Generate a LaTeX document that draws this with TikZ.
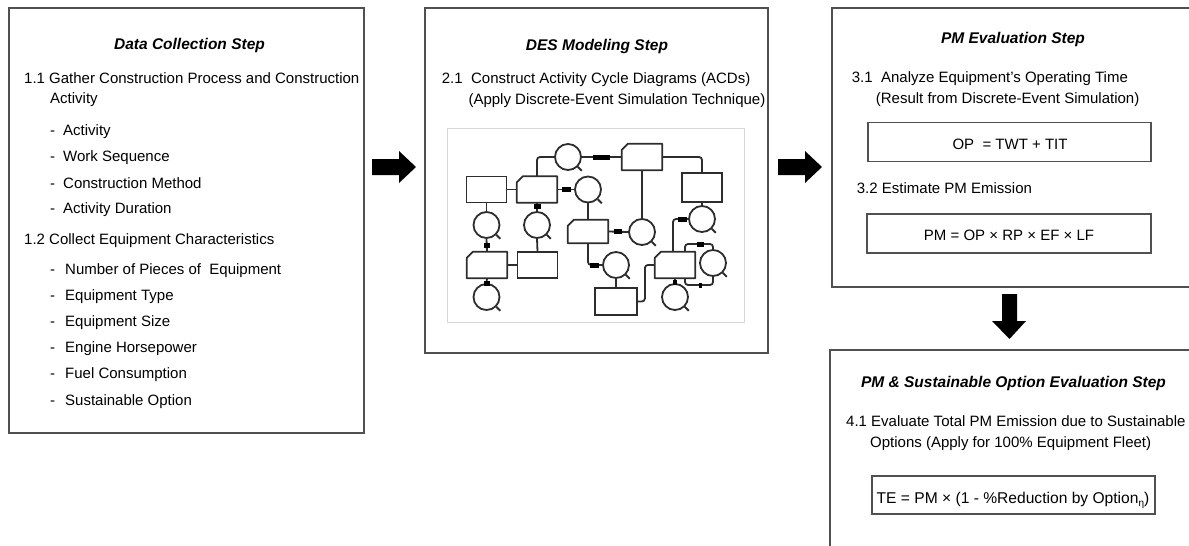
\documentclass[tikz,border=0pt]{standalone}
\usepackage{fontspec}
\setmainfont{Liberation Sans}
\definecolor{framecol}{RGB}{80,80,80}
\definecolor{acdcol}{RGB}{45,45,45}
\definecolor{innerframe}{RGB}{215,215,215}
\begin{document}
\begin{tikzpicture}[x=1pt,y=-1pt,
  stepframe/.style={draw=framecol, line width=1.4pt},
  fbox/.style={draw=framecol, line width=1.4pt, minimum height=39, inner sep=0},
  ttl/.style={font=\fontsize{15.5}{18}\selectfont\bfseries\itshape, anchor=base, inner sep=0},
  txt/.style={font=\fontsize{15}{17}\selectfont, anchor=base west, inner sep=0},
  ctxt/.style={font=\fontsize{15}{17}\selectfont, anchor=base, inner sep=0},
  acd/.style={line width=1.8pt, draw=acdcol},
  abox/.style={acd, rectangle, minimum width=40, minimum height=26, inner sep=0, fill=white},
  cbox/.style={rectangle, minimum width=40, minimum height=26, inner sep=0},
  qc/.style={acd, circle, minimum size=26, inner sep=0, fill=white},
  lbl/.style={fill=black, minimum height=5, inner sep=0},
  wire/.style={acd, rounded corners=3pt},
  barrow/.style={fill=black}
]
\useasboundingbox (0,0) rectangle (1189,546);
\clip (0,0) rectangle (1189,546);

% ---------- step frames ----------
\draw[stepframe] (9,8) rectangle (364,433);
\draw[stepframe] (425,8) rectangle (768,353);
\draw[stepframe] (832,8) rectangle (1200,287);
\draw[stepframe] (830,350) rectangle (1200,560);

% ---------- block arrows ----------
\fill[barrow] (372,159) -- (399,159) -- (399,151) -- (416,167) -- (399,183) -- (399,175) -- (372,175) -- cycle;
\fill[barrow] (778,159) -- (805,159) -- (805,151) -- (822,167) -- (805,183) -- (805,175) -- (778,175) -- cycle;
\fill[barrow] (1002,294) -- (1017,294) -- (1017,321) -- (1026,321) -- (1009.5,339) -- (992,321) -- (1002,321) -- cycle;

% ---------- box 1 ----------
\node[ttl] (t1) at (189.5,49) {Data Collection Step};
\node[txt] (a1) at (24,83.3) {1.1 Gather Construction Process and Construction};
\node[txt] (a2) at (50,103.7) {Activity};
\node[txt] (a3) at (50,135.7) {\makebox[13pt][l]{-}Activity};
\node[txt] (a4) at (50,161.7) {\makebox[13pt][l]{-}Work Sequence};
\node[txt] (a5) at (50,188.3) {\makebox[13pt][l]{-}Construction Method};
\node[txt] (a6) at (50,213.7) {\makebox[13pt][l]{-}Activity Duration};
\node[txt] (b1) at (24,244.3) {1.2 Collect Equipment Characteristics};
\node[txt] (b2) at (50,274) {\makebox[15pt][l]{-}Number of Pieces of \ Equipment};
\node[txt] (b3) at (50,300) {\makebox[15pt][l]{-}Equipment Type};
\node[txt] (b4) at (50,326.5) {\makebox[15pt][l]{-}Equipment Size};
\node[txt] (b5) at (50,352.5) {\makebox[15pt][l]{-}Engine Horsepower};
\node[txt] (b6) at (50,378.5) {\makebox[15pt][l]{-}Fuel Consumption};
\node[txt] (b7) at (50,405) {\makebox[15pt][l]{-}Sustainable Option};

% ---------- box 2 ----------
\node[ttl] (t2) at (597,50) {DES Modeling Step};
\node[txt] (c1) at (441.7,83.3) {2.1\ \ Construct Activity Cycle Diagrams (ACDs)};
\node[txt] (c2) at (468.3,104) {(Apply Discrete-Event Simulation Technique)};
\draw[innerframe, line width=1pt] (447,128) rectangle (744,322);

% ACD nodes
\node[qc] (q1) at (568,157) {};
\node[cbox] (k2) at (642,157) {};
\node[abox] (k4) at (486.5,189.5) {};
\node[cbox] (k5) at (537,189.5) {};
\node[qc] (q6) at (588,189.5) {};
\node[abox, minimum height=29] (k8) at (702,187.5) {};
\node[qc] (q9) at (702,219) {};
\node[qc] (q10) at (486.5,225) {};
\node[qc] (q11) at (537,225) {};
\node[cbox, minimum height=23] (k13) at (588,231.5) {};
\node[qc] (q15) at (642,232) {};
\node[qc] (q17) at (616,265) {};
\node[abox, minimum width=42, minimum height=27] (k19) at (616,301.5) {};
\node[cbox] (k20) at (675,265) {};
\node[qc] (q21) at (713,263) {};
\node[qc] (q23) at (675,297) {};
\node[cbox] (k25) at (487,265) {};
\node[abox] (k26) at (537.5,265) {};
\node[qc] (q27) at (486.5,297) {};
\foreach \k in {k2,k5,k13,k20,k25}
  \draw[acd, fill=white, line join=round]
    ([yshift=-6pt]\k.north west) -- ([xshift=6pt]\k.north west) -- (\k.north east)
    -- (\k.south east) -- (\k.south west) -- cycle;
\coordinate (lpA) at (685,244);
\coordinate (lpB) at (685,285);

% ACD wires
\draw[wire] (k5.north) |- (q1.west);
\draw[wire] (q1.east) -- (k2.west);
\draw[wire] (k2.east) -| (k8.north);
\draw[wire] (k2.south) -- (q15.north);
\draw[wire] (k4.east) -- (k5.west);
\draw[wire] (k5.east) -- (q6.west);
\draw[wire] (q6.south) -- (k13.north);
\draw[wire] (k13.east) -- (q15.west);
\draw[wire] (k13.south) |- (q17.west);
\draw[wire] (q17.south) -- (k19.north);
\draw[wire] (k19.east) -- ++(7,0) |- (k20.west);
\draw[wire] ([xshift=-2pt]k20.north) |- (q9.west);
\draw[wire] (k8.south) -- (q9.north);
\draw[wire] (lpA |- k20.north) -- (lpA) -| (q21.north);
\draw[wire] (q21.south) |- (lpB) -- (lpB |- k20.south);
\draw[wire] (k20.south) -- (q23.north);
\draw[wire] (k4.south) -- (q10.north);
\draw[wire] (q10.south) -- (k25.north);
\draw[wire] (k25.south) -- (q27.north);
\draw[wire] (k25.east) -- (k26.west);
\draw[wire] (k26.north) -- (q11.south);
\draw[wire] (q11.north) -- (k5.south);
\foreach \q in {q1,q6,q9,q10,q11,q15,q17,q21,q23,q27}
  \draw[acd] (\q.-45) -- ++(4,4);

% ACD small labels
\node[lbl, minimum width=17] (l1) at (601,157) {};
\node[lbl, minimum width=9] (l2) at (566,189.5) {};
\node[lbl, minimum width=7] (l3) at (537,206) {};
\node[lbl, minimum width=8] (l4) at (618,231.5) {};
\node[lbl, minimum width=9] (l5) at (594,265) {};
\node[lbl, minimum width=9] (l6) at (682,219) {};
\node[lbl, minimum width=7] (l7) at (700,244) {};
\node[lbl, minimum width=3] (l8) at (700,285) {};
\node[lbl, minimum width=4] (l9) at (675,282) {};
\node[lbl, minimum width=6] (l10) at (486.5,245) {};
\node[lbl, minimum width=6] (l11) at (486.5,283) {};

% ---------- box 3 ----------
\node[ttl] (t3) at (1013,43) {PM Evaluation Step};
\node[txt] (d1) at (851.7,82.7) {3.1\ \ Analyze Equipment’s Operating Time};
\node[txt] (d2) at (875.7,103.3) {(Result from Discrete-Event Simulation)};
\node[fbox, minimum width=283] (f1) at (1009.5,142) {};
\node[ctxt] (e1) at (1010,149.3) {OP\ \ = TWT + TIT};
\node[txt] (d3) at (856.7,193.3) {3.2 Estimate PM Emission};
\node[fbox, minimum width=284] (f2) at (1009,233.5) {};
\node[ctxt] (e2) at (1009,240) {PM = OP × RP × EF × LF};

% ---------- box 4 ----------
\node[ttl] (t4) at (1013.5,387.3) {PM \& Sustainable Option Evaluation Step};
\node[txt] (g1) at (846,426) {4.1 Evaluate Total PM Emission due to Sustainable};
\node[txt] (g2) at (870,447.3) {Options (Apply for 100\% Equipment Fleet)};
\node[fbox, minimum width=283, minimum height=38] (f3) at (1013.5,495) {};
\node[ctxt, font=\fontsize{15.6}{17}\selectfont] (e3) at (1013,503.3) {TE = PM × (1 - \%Reduction by Option\raisebox{-3pt}{\fontsize{10}{10}\selectfont η})};
\end{tikzpicture}
\end{document}
